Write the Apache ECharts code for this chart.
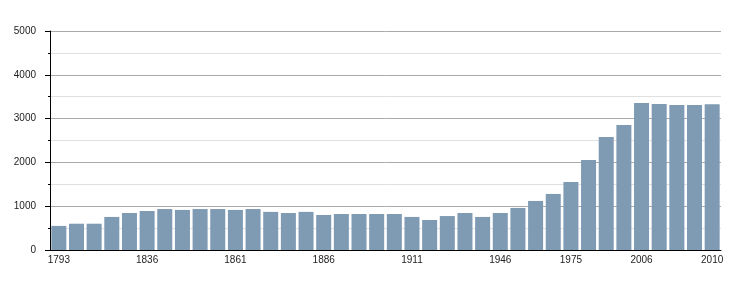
<!DOCTYPE html>
<html>
<head>
<meta charset="utf-8">
<script src="https://cdn.jsdelivr.net/npm/echarts@6/dist/echarts.min.js"></script>
<style>
html,body{margin:0;padding:0;background:#fff;}
#chart{width:750px;height:300px;}
</style>
</head>
<body>
<div id="chart"></div>
<script>
const years = ['1793','1800','1806','1821','1831','1836','1841','1846','1851','1856','1861','1866','1872','1876','1881','1886','1891','1896','1901','1906','1911','1921','1926','1931','1936','1946','1954','1962','1968','1975','1982','1990','1999','2006','2007','2008','2009','2010'];
const population = [550,600,600,755,845,890,935,915,935,935,915,935,870,845,870,800,822,822,822,822,755,685,775,845,755,845,960,1120,1280,1555,2055,2580,2855,3355,3335,3310,3310,3330];
const shownYearLabels = ['1793','1836','1861','1886','1911','1946','1975','2006','2010'];
const yTicks = [0,1000,2000,3000,4000,5000];

const chart = echarts.init(document.getElementById('chart'), null, {renderer:'canvas'});
chart.setOption({
  animation:false,
  backgroundColor:'#fff',
  grid:{left:50,right:29,top:31,bottom:50,containLabel:false},
  xAxis:{
    type:'category',
    data:years,
    axisLine:{show:true,lineStyle:{color:'#000',width:1}},
    axisTick:{show:false},
    axisLabel:{
      interval:function(i,v){return shownYearLabels.indexOf(v)>=0;},
      color:'#222',fontSize:10,fontFamily:'Liberation Sans, Arial, sans-serif',margin:5
    },
    splitLine:{show:false}
  },
  yAxis:{
    type:'value',
    min:yTicks[0],max:yTicks[yTicks.length-1],interval:1000,
    axisLine:{show:true,lineStyle:{color:'#000',width:1}},
    axisTick:{show:true,length:5,lineStyle:{color:'#000'}},
    minorTick:{show:true,splitNumber:2,length:2,lineStyle:{color:'#000'}},
    axisLabel:{color:'#222',fontSize:10,fontFamily:'Liberation Sans, Arial, sans-serif',margin:14,
      formatter:function(v){return String(v);}},
    splitLine:{show:true,lineStyle:{color:'#aaaaaa',width:1}},
    minorSplitLine:{show:true,lineStyle:{color:'#e0e0e0',width:1}}
  },
  series:[{
    type:'bar',
    data:population,
    barCategoryGap:'15%',
    itemStyle:{color:'#7f9ab3'},
    emphasis:{disabled:true}
  }]
});
</script>
</body>
</html>
